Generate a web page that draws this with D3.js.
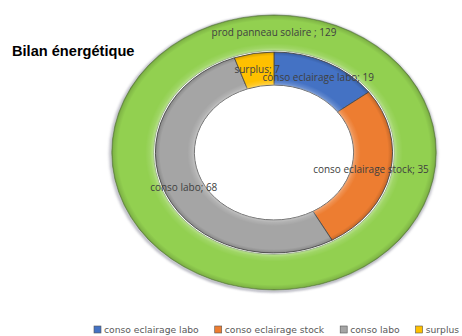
<!DOCTYPE html>
<html>
<head>
<meta charset="utf-8">
<script src="https://cdn.jsdelivr.net/npm/d3@7"></script>
<style>
  html, body { margin: 0; padding: 0; background: #fff; }
  svg { display: block; }
</style>
</head>
<body>
<svg id="chart" width="462" height="336"></svg>
<script>
// Energy balance: production ring (outer) vs. consumption breakdown (inner)
const title = "Bilan énergétique";
const prodLabel = "prod panneau solaire";
const prodValue = 129;
const categories = ["conso eclairage labo", "conso eclairage stock", "conso labo", "surplus"];
const values = [19, 35, 68, 7];
const colors = ["#4472C4", "#ED7D31", "#A5A5A5", "#FFC000"];
const prodColor = "#92D050";

const svg = d3.select("#chart");
const cx = 274, cy = 152.5, sx = 1.18; // ellipse centre and horizontal stretch

const rOuterOut = 137.5, rOuterIn = 102;
const rInnerOut = 100.5, rInnerIn = 67.5;

const defs = svg.append("defs");

// bevel shading overlays
function bevel(id, r0, r1, stops) {
  const g = defs.append("radialGradient")
    .attr("id", id).attr("gradientUnits", "userSpaceOnUse")
    .attr("cx", 0).attr("cy", 0).attr("r", r1);
  stops.forEach(([t, c, o]) => {
    g.append("stop").attr("offset", (r0 + (r1 - r0) * t) / r1)
      .attr("stop-color", c).attr("stop-opacity", o);
  });
}
bevel("bevOuter", rOuterIn, rOuterOut, [
  [0, "#fff", 0.35], [0.08, "#fff", 0.12], [0.2, "#fff", 0], [0.85, "#000", 0], [0.96, "#000", 0.12], [1, "#000", 0.3]
]);
bevel("bevInner", rInnerIn, rInnerOut, [
  [0, "#fff", 0.35], [0.07, "#fff", 0.15], [0.18, "#fff", 0], [0.88, "#000", 0], [1, "#000", 0.18]
]);

const blur = defs.append("filter").attr("id", "shadow")
  .attr("x", "-10%").attr("y", "-10%").attr("width", "120%").attr("height", "120%");
blur.append("feGaussianBlur").attr("stdDeviation", 1.2);

const g = svg.append("g").attr("transform", `translate(${cx},${cy}) scale(${sx},1)`);

// soft shadow around the production ring
g.append("path")
  .attr("d", d3.arc().innerRadius(rOuterOut - 1).outerRadius(rOuterOut + 1.5)
    .startAngle(0).endAngle(2 * Math.PI)())
  .attr("transform", "translate(-0.5,1)")
  .attr("fill", "#8a8a9a").attr("opacity", 0.7).attr("filter", "url(#shadow)");

const outerArc = d3.arc().innerRadius(rOuterIn).outerRadius(rOuterOut);
g.append("path")
  .attr("d", outerArc({ startAngle: 0, endAngle: 2 * Math.PI }))
  .attr("fill", prodColor)
  .attr("stroke", "#6f8f55").attr("stroke-width", 0.7)
  .attr("vector-effect", "non-scaling-stroke");
g.append("path")
  .attr("d", outerArc({ startAngle: 0, endAngle: 2 * Math.PI }))
  .attr("fill", "url(#bevOuter)");

// inner consumption ring
const pie = d3.pie().sort(null).value(d => d.value);
const data = categories.map((c, i) => ({ name: c, value: values[i], color: colors[i] }));
const arcs = pie(data);
const innerArc = d3.arc().innerRadius(rInnerIn).outerRadius(rInnerOut);

g.selectAll("path.slice").data(arcs).join("path")
  .attr("class", "slice")
  .attr("d", innerArc)
  .attr("fill", d => d.data.color)
  .attr("stroke", "#4d4d4d").attr("stroke-width", 0.9)
  .attr("vector-effect", "non-scaling-stroke");
g.append("path")
  .attr("d", innerArc({ startAngle: 0, endAngle: 2 * Math.PI }))
  .attr("fill", "url(#bevInner)");

// data labels (placed at slice centroids, projected through the ellipse)
const labelFont = "'Open Sans', sans-serif";
const proj = ([x, y]) => [cx + x * sx, cy + y];

const labels = svg.append("g")
  .attr("font-family", labelFont).attr("font-size", 10).attr("fill", "#404040")
  .attr("text-anchor", "middle");

const pc = proj(outerArc.centroid({ startAngle: -0.001, endAngle: 0.001 }));
labels.append("text").attr("x", pc[0]).attr("y", pc[1]).attr("dy", "0.35em")
  .text(`${prodLabel} ; ${prodValue}`);

labels.selectAll("text.slice").data(arcs).join("text")
  .attr("class", "slice")
  .attr("x", d => proj(innerArc.centroid(d))[0])
  .attr("y", d => proj(innerArc.centroid(d))[1])
  .attr("dy", "0.35em")
  .text(d => `${d.data.name}; ${d.data.value}`);

// title
svg.append("text")
  .attr("x", 12).attr("y", 56)
  .attr("font-family", "'Liberation Sans', Arial, sans-serif")
  .attr("font-weight", "bold").attr("font-size", 14.6).attr("fill", "#000")
  .text(title);

// legend
const legend = svg.append("g")
  .attr("font-family", "'DejaVu Sans', sans-serif").attr("font-size", 9.2).attr("fill", "#595959");
let lx = 94;
const ly = 329.5;
data.forEach(d => {
  const item = legend.append("g");
  item.append("rect").attr("x", lx).attr("y", ly - 3.5).attr("width", 7).attr("height", 7)
    .attr("fill", d.color).attr("stroke", "#555").attr("stroke-width", 0.6);
  const t = item.append("text").attr("x", lx + 10).attr("y", ly).attr("dy", "0.35em").text(d.name);
  lx += 10 + t.node().getComputedTextLength() + 16;
});
</script>
</body>
</html>
